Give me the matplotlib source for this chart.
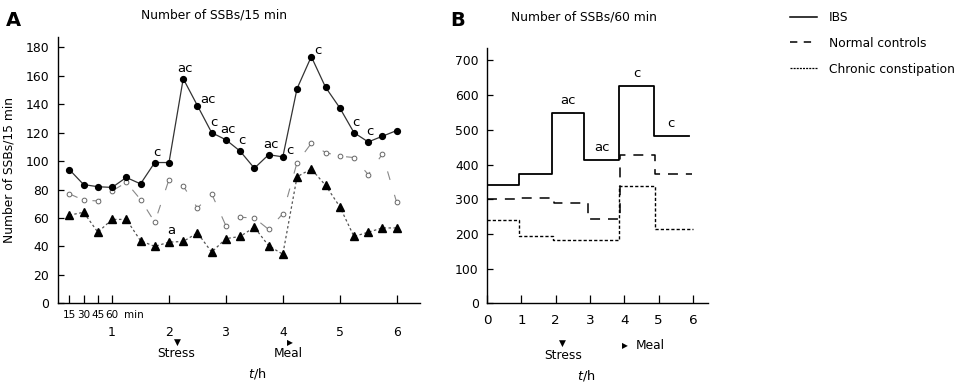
import matplotlib
matplotlib.use("Agg")
import matplotlib.pyplot as plt
import numpy as np
from matplotlib.lines import Line2D

plt.rcParams['font.family'] = ['DejaVu Sans']

# ---------------- Panel A data (per 15 min) ----------------
t_quarter = np.arange(1, 25) * 0.25  # hours
ibs_15 = [94, 83.5, 82, 81.5, 88.5, 84, 99, 99, 158, 139, 120, 115, 107, 95,
          104.5, 103, 151, 173.5, 152, 137.5, 120, 113.5, 117.5, 121.5]
normal_15 = [77, 72.5, 72, 79, 85, 73, 57, 87, 82.5, 67, 77, 54.5, 60.5, 60,
             52, 63, 99, 112.5, 106, 103.5, 102.5, 90.5, 105, 71]
cc_15 = [62, 64, 50, 59, 59, 44, 40, 43, 43.5, 49.5, 36, 45.5, 47, 53.5,
         40.5, 34.5, 89, 94.5, 83, 68, 47, 50, 53, 53]
ibs_15_labels = ["", "", "", "", "", "", "c", "", "ac", "ac", "c", "ac", "c", "",
                 "ac", "c", "", "c", "", "", "c", "c", "", ""]
cc_15_labels = ["", "", "", "", "", "", "", "a", "", "", "", "", "", "",
                "", "", "", "", "", "", "", "", "", ""]
minute_labels = ["15", "30", "45", "60"]
hour_ticks = [1, 2, 3, 4, 5, 6]
yticks_A = [0, 20, 40, 60, 80, 100, 120, 140, 160, 180]

# ---------------- Panel B data (per 60 min) ----------------
ibs_60 = [340, 372, 548, 414, 627, 482]
ibs_edges = [0, 0.94, 1.89, 2.84, 3.85, 4.86, 5.88]
ibs_60_labels = ["", "", "ac", "ac", "c", "c"]
normal_60 = [300, 303, 288, 243, 427, 372]
normal_edges = [0, 0.97, 1.95, 2.93, 3.89, 4.9, 5.96]
cc_60 = [239, 193, 182, 182, 339, 213]
cc_edges = [0, 0.93, 1.93, 2.9, 3.86, 4.91, 6.0]
yticks_B = [0, 100, 200, 300, 400, 500, 600, 700]
xticks_B = [0, 1, 2, 3, 4, 5, 6]

series_names = ["IBS", "Normal controls", "Chronic constipation"]

fig = plt.figure(figsize=(9.65, 3.87), dpi=100)
W, H = 965, 387

def px_axes(l, r, t, b):
    return fig.add_axes([l / W, 1 - b / H, (r - l) / W, (b - t) / H])

FS = 8.8      # titles / labels
TFS = 8.9     # tick labels
AFS = 9.5     # significance letters

# ================= Panel A =================
axA = px_axes(58, 420, 36.7, 303.3)
axA.plot(t_quarter, normal_15, color='#888888', lw=0.8, ls=(0, (8, 14)),
         marker='o', ms=3.4, mfc='white', mec='#666666', mew=0.7, zorder=2)
axA.plot(t_quarter, cc_15, color='#555555', lw=0.9, ls=(0, (2, 2)),
         marker='^', ms=5.8, mfc='black', mec='black', zorder=3)
axA.plot(t_quarter, ibs_15, color='#333333', lw=0.9, ls='-',
         marker='o', ms=4.2, mfc='black', mec='black', zorder=4)

right_idx = {9, 15, 17}
for i, (x, y, lab) in enumerate(zip(t_quarter, ibs_15, ibs_15_labels)):
    if not lab:
        continue
    if i in right_idx:
        off, ha, va = (3, 0), 'left', 'bottom'
    else:
        off, ha, va = (2, 4), 'center', 'bottom'
    axA.annotate(lab, (x, y), xytext=off, textcoords='offset pixels',
                 ha=ha, va=va, fontsize=AFS)
for x, y, lab in zip(t_quarter, cc_15, cc_15_labels):
    if lab:
        axA.annotate(lab, (x, y), xytext=(2, 5), textcoords='offset pixels',
                     ha='center', va='bottom', fontsize=AFS)

axA.set_xlim(0.05, 6.41)
axA.set_ylim(0, 187.5)
axA.set_yticks(yticks_A)
axA.set_yticklabels([str(v) for v in yticks_A], fontsize=TFS)
axA.set_xticks(hour_ticks)
axA.set_xticklabels([str(v) for v in hour_ticks], fontsize=TFS)
axA.set_xticks([0.25, 0.5, 0.75], minor=True)
axA.tick_params(axis='x', which='both', direction='in', length=6, width=0.9, pad=16.5)
axA.tick_params(axis='y', direction='in', length=4, width=0.9, pad=6.5)
for s in ['top', 'right']:
    axA.spines[s].set_visible(False)
for s in ['left', 'bottom']:
    axA.spines[s].set_linewidth(1.0)

xtr = axA.get_xaxis_transform()
for x, lab in zip([0.25, 0.5, 0.75, 1.0], minute_labels):
    axA.annotate(lab, (x, 0), xycoords=xtr, xytext=(0, -12), textcoords='offset pixels',
                 ha='center', va='center', fontsize=7.5)
axA.annotate("min", (1.0, 0), xycoords=xtr, xytext=(12, -12), textcoords='offset pixels',
             ha='left', va='center', fontsize=7.5)
axA.annotate("\u25BC", (2.14, 0), xycoords=xtr, xytext=(0, -39), textcoords='offset pixels',
             ha='center', va='center', fontsize=6.5)
axA.annotate("Stress", (2.12, 0), xycoords=xtr, xytext=(0, -50), textcoords='offset pixels',
             ha='center', va='center', fontsize=FS)
axA.annotate("\u25B6", (4.12, 0), xycoords=xtr, xytext=(0, -39), textcoords='offset pixels',
             ha='center', va='center', fontsize=5.5)
axA.annotate("Meal", (4.09, 0), xycoords=xtr, xytext=(0, -50), textcoords='offset pixels',
             ha='center', va='center', fontsize=FS)
axA.annotate("$t$/h", (3.55, 0), xycoords=xtr, xytext=(0, -70), textcoords='offset pixels',
             ha='center', va='center', fontsize=FS + 0.5)
axA.set_ylabel("Number of SSBs/15 min", fontsize=FS, labelpad=7)
axA.set_title("Number of SSBs/15 min", fontsize=FS, pad=13, x=0.43)

fig.text(6 / W, 1 - 21 / H, "A", fontsize=14, fontweight='bold', va='center', ha='left')
fig.text(450 / W, 1 - 20 / H, "B", fontsize=14, fontweight='bold', va='center', ha='left')

# ================= Panel B =================
axB = px_axes(487, 708, 48.3, 303.3)

def step_xy(edges, vals):
    xs, ys = [], []
    for i, v in enumerate(vals):
        xs += [edges[i], edges[i + 1]]
        ys += [v, v]
    return xs, ys

xs, ys = step_xy(ibs_edges, ibs_60)
lI, = axB.plot(xs, ys, color='black', lw=1.3, ls='-')
xs, ys = step_xy(normal_edges, normal_60)
lN, = axB.plot(xs, ys, color='black', lw=1.1, ls=(0, (6.5, 5.2)))
xs, ys = step_xy(cc_edges, cc_60)
lC, = axB.plot(xs, ys, color='black', lw=1.0, ls=(0, (2.3, 1.5)))

for i, (v, lab) in enumerate(zip(ibs_60, ibs_60_labels)):
    if lab:
        xc = 0.5 * (ibs_edges[i] + ibs_edges[i + 1])
        axB.annotate(lab, (xc, v), xytext=(0, 6), textcoords='offset pixels',
                     ha='center', va='bottom', fontsize=AFS)

axB.set_xlim(0, 6.44)
axB.set_ylim(0, 735)
axB.set_yticks(yticks_B)
axB.set_yticklabels([str(v) for v in yticks_B], fontsize=TFS)
axB.set_xticks(xticks_B)
axB.set_xticklabels([str(v) for v in xticks_B], fontsize=TFS + 0.8)
axB.tick_params(axis='x', direction='in', length=6, width=0.9, pad=7.5)
axB.tick_params(axis='y', direction='in', length=4, width=0.9, pad=6)
for s in ['top', 'right']:
    axB.spines[s].set_visible(False)
for s in ['left', 'bottom']:
    axB.spines[s].set_linewidth(1.0)

xtrB = axB.get_xaxis_transform()
axB.annotate("\u25BC", (2.21, 0), xycoords=xtrB, xytext=(0, -40), textcoords='offset pixels',
             ha='center', va='center', fontsize=6.5)
axB.annotate("Stress", (2.21, 0), xycoords=xtrB, xytext=(0, -52), textcoords='offset pixels',
             ha='center', va='center', fontsize=FS)
axB.annotate("\u25B6", (4.02, 0), xycoords=xtrB, xytext=(0, -42), textcoords='offset pixels',
             ha='center', va='center', fontsize=5.5)
axB.annotate("Meal", (4.02, 0), xycoords=xtrB, xytext=(11, -42), textcoords='offset pixels',
             ha='left', va='center', fontsize=FS)
axB.annotate("$t$/h", (2.9, 0), xycoords=xtrB, xytext=(0, -72), textcoords='offset pixels',
             ha='center', va='center', fontsize=FS + 0.5)
fig.text(511 / W, 1 - 17 / H, "Number of SSBs/60 min", fontsize=FS, ha='left', va='center')

# legend handles (styles only)
hI = Line2D([], [], color='black', lw=1.1, ls='-')
hN = Line2D([], [], color='black', lw=1.1, ls=(0, (4.8, 4.2)))
hC = Line2D([], [], color='black', lw=0.9, ls=(0, (1.6, 0.9)))
fig.legend(handles=[hI, hN, hC], labels=series_names, loc='upper left',
           bbox_to_anchor=(785 / W, 1 - 6 / H), frameon=False, fontsize=FS,
           handlelength=2.2, handletextpad=1.0, labelspacing=1.05, borderaxespad=0)

fig.savefig("out.png", dpi=100)
